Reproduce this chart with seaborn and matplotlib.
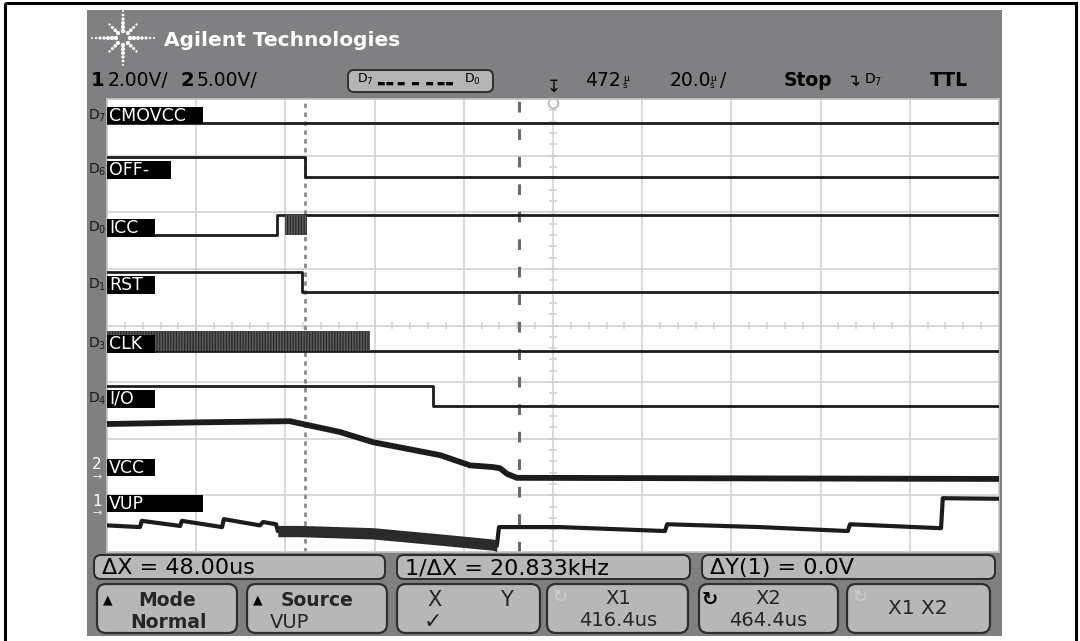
import matplotlib
matplotlib.use("Agg")
import numpy as np
import matplotlib.pyplot as plt
import seaborn as sns
from matplotlib.patches import Rectangle, FancyBboxPatch

# ---------------- data ----------------
t_center = 472.0          # µs, horizontal position
t_per_div = 20.0          # µs / div
cursor_x1 = 416.4         # µs
cursor_x2 = 464.4         # µs

dig_names = ["CMOVCC", "OFF-", "ICC", "RST", "CLK", "I/O"]
dig_pods = ["7", "6", "0", "1", "3", "4"]
dig_low = [3.58, 2.62, 1.60, 0.59, -0.45, -1.42]      # divisions
dig_times = [
    [372.0, 572.0],
    [372.0, 416.5, 572.0],
    [372.0, 410.1, 572.0],
    [372.0, 415.7, 572.0],
    [372.0, 431.0, 572.0],
    [372.0, 445.1, 572.0],
]
dig_states = [[0, 0], [1, 0, 0], [0, 1, 1], [1, 0, 0], [0, 0, 0], [1, 0, 0]]
dig_bursts = [None, None, (411.9, 416.8), None, (372.0, 431.0), None]

vcc_t = [372.0, 392.9, 413.0, 415.9, 424.2, 431.6, 446.7, 453.4, 458.5,
         460.1, 461.7, 463.9, 572.0]
vcc_v = [-1.74, -1.71, -1.69, -1.74, -1.88, -2.06, -2.29, -2.47, -2.50,
         -2.52, -2.62, -2.69, -2.71]

vup_t = [372.0, 379.4, 379.8, 388.4, 388.8, 397.8, 398.2, 406.3, 407.0, 409.9,
         410.3, 415.3, 431.6, 446.7, 458.5, 459.4, 459.9, 473.6, 497.1, 497.6,
         518.4, 538.1, 538.6, 559.0, 559.4, 572.0]
vup_v = [-3.53, -3.56, -3.45, -3.54, -3.45, -3.56, -3.42, -3.53, -3.47, -3.51,
         -3.63, -3.63, -3.67, -3.78, -3.87, -3.89, -3.56, -3.56, -3.63, -3.51,
         -3.56, -3.63, -3.51, -3.58, -3.05, -3.06]
vup_band_t = [410.3, 415.3, 431.6, 446.7, 458.5, 459.4]
vup_band_v = [-3.63, -3.63, -3.67, -3.78, -3.87, -3.89]

analog_names = ["VCC", "VUP"]
analog_nums = ["2", "1"]

# ---------------- style / layout ----------------
sns.set_theme(style="white")
plt.rcParams["font.family"] = ["DejaVu Sans"]
plt.rcParams["hatch.linewidth"] = 0.9

W, H = 1080, 641
SX0, SX1, SY0, SY1 = 107, 999, 99, 552          # screen in pixels
t0 = t_center - 5 * t_per_div
t1 = t_center + 5 * t_per_div
px_per_div_y = (SY1 - SY0) / 8.0
px_per_us = (SX1 - SX0) / (t1 - t0)

def ypx(v):
    return (SY0 + SY1) / 2.0 - v * px_per_div_y

bezel = "#807f81"
trace_c = "#1c1c1c"
grid_c = "#d2d2d2"
key_fill = "#b7b7b7"
key_edge = "#2e2e2e"

fig = plt.figure(figsize=(W / 100, H / 100), dpi=100)
fig.patch.set_facecolor("white")
bg = fig.add_axes([0, 0, 1, 1])
bg.set_xlim(0, W)
bg.set_ylim(H, 0)
bg.axis("off")

bg.add_patch(Rectangle((5, 3), 1071, 650, fill=False, ec="black", lw=2.2))
bg.add_patch(Rectangle((87, 10), 915, 626, fc=bezel, ec="none"))

# logo starburst
cx, cy = 123, 38
for k in range(8):
    a = np.deg2rad(45 * k)
    if k % 4 == 0:
        radii, sizes = [7, 11, 15, 19, 23, 27, 31], [10, 9, 8, 6, 5, 3, 2]
    elif k % 2 == 0:
        radii, sizes = [7, 11, 15, 19, 23, 27], [10, 9, 8, 6, 4, 2]
    else:
        radii, sizes = [7, 11, 15, 19], [9, 7, 5, 3]
    xs = [cx + r * np.cos(a) for r in radii]
    ys = [cy - r * np.sin(a) for r in radii]
    bg.scatter(xs, ys, s=sizes, c="white", lw=0, zorder=3)

bg.text(164, 40, "Agilent Technologies", color="white", fontsize=14.5,
        fontweight="bold", va="center", ha="left")

# status row
ry = 81
bg.text(91, ry, "1", fontsize=14, fontweight="bold", va="center", color="black")
bg.text(108, ry, "2.00V/", fontsize=13.5, va="center", color="black")
bg.text(180, ry, "2", fontsize=14, fontweight="bold", va="center", color="black")
bg.text(197, ry, "5.00V/", fontsize=13.5, va="center", color="black")
bg.add_patch(FancyBboxPatch((348, 70), 145, 22, boxstyle="round,pad=0,rounding_size=6",
                            fc="#b4b4b4", ec=key_edge, lw=1.4))
bg.text(357, 79, r"$\mathregular{D_7}$", fontsize=9, va="center", color="black")
bg.text(377, 83, "▬▬ ▬  ▬  ▬ ▬▬", fontsize=6.5, va="center", color="black")
bg.text(464, 79, r"$\mathregular{D_0}$", fontsize=9, va="center", color="black")
bg.text(553, 87, "↧", fontsize=12, va="center", ha="center", color="black")
bg.text(585, ry, "472", fontsize=13.5, va="center", color="black")
bg.text(623, ry + 1, "µ\ns", fontsize=6.5, linespacing=0.75, va="center", color="black")
bg.text(670, ry, "20.0", fontsize=13.5, va="center", color="black")
bg.text(710, ry + 1, "µ\ns", fontsize=6.5, linespacing=0.75, va="center", color="black")
bg.text(720, ry, "/", fontsize=13.5, va="center", color="black")
bg.text(784, ry, "Stop", fontsize=13.5, fontweight="bold", va="center", color="black")
bg.text(846, ry, "↴", fontsize=12, va="center", color="black")
bg.text(864, ry - 1, r"$\mathregular{D_7}$", fontsize=10, va="center", color="black")
bg.text(930, ry, "TTL", fontsize=13.5, fontweight="bold", va="center", color="black")

# ---------------- screen ----------------
sc = fig.add_axes([SX0 / W, 1 - SY1 / H, (SX1 - SX0) / W, (SY1 - SY0) / H])
sc.set_facecolor("white")
sc.set_xlim(t0, t1)
sc.set_ylim(-4, 4)
sc.set_xticks([])
sc.set_yticks([])
for s in sc.spines.values():
    s.set_color("#c4c4c4")
    s.set_linewidth(1.2)

for k in range(1, 10):
    sc.axvline(t0 + k * t_per_div, color=grid_c, lw=1.2, zorder=1)
for k in range(1, 8):
    sc.axhline(-4 + k, color=grid_c, lw=1.2, zorder=1)
minor_t = t0 + np.arange(1, 50) * t_per_div / 5
sc.vlines(minor_t, -0.06, 0.06, color=grid_c, lw=1.2, zorder=1)
minor_v = -4 + np.arange(1, 40) * 0.2
sc.hlines(minor_v, t_center - 0.8, t_center + 0.8, color=grid_c, lw=1.2, zorder=1)

# cursors
sc.axvline(cursor_x1, color="#8a8a8a", lw=2.0, ls=(0, (1.6, 1.6)), zorder=2)
sc.axvline(cursor_x2, color="#6a6a6a", lw=2.2, ls=(0, (3.5, 5.5)), zorder=2)
sc.plot([t_center], [3.93], marker="o", ms=7, mfc="white", mec="#b5b5b5",
        mew=1.2, clip_on=False, zorder=2)

# digital channels
high_step = 0.35
for name, pod, low, tt, ss, burst in zip(dig_names, dig_pods, dig_low,
                                         dig_times, dig_states, dig_bursts):
    yy = [low + high_step * s for s in ss]
    sns.lineplot(x=tt, y=yy, ax=sc, color=trace_c, linewidth=2.0,
                 drawstyle="steps-post", estimator=None, sort=False,
                 legend=False, zorder=3)
    if burst is not None:
        sc.fill_between([burst[0], burst[1]], [low, low],
                        [low + high_step, low + high_step],
                        facecolor="#5c5c5c", edgecolor="#2a2a2a",
                        hatch="||||||", linewidth=0, zorder=3)
    bw = len(name) * 16 if len(name) > 3 else 48
    sc.add_patch(Rectangle((t0, low - 0.03), bw / px_per_us, 0.31,
                           fc="black", ec="none", zorder=6, clip_on=False))
    sc.text(t0 + 2 / px_per_us, low + 0.125, name, color="white", fontsize=12.5,
            va="center", ha="left", zorder=7)
    bg.text(88, ypx(low + 0.13), r"$\mathregular{D_{%s}}$" % pod, fontsize=10,
            color="#1a1a1a", va="center", ha="left")

# analog channels
sns.lineplot(x=vcc_t, y=vcc_v, ax=sc, color=trace_c, linewidth=4.2,
             estimator=None, sort=False, legend=False, zorder=3)
sns.lineplot(x=vup_t, y=vup_v, ax=sc, color=trace_c, linewidth=3.0,
             estimator=None, sort=False, legend=False, zorder=3)
band_half = 0.1
sc.fill_between(vup_band_t, [v - band_half for v in vup_band_v],
                [v + band_half for v in vup_band_v], color="#2a2a2a", lw=0, zorder=3)

analog_box_bottom = [-2.66, -3.30]
analog_box_w = [48, 96]
for name, num, yb, bw in zip(analog_names, analog_nums, analog_box_bottom, analog_box_w):
    sc.add_patch(Rectangle((t0, yb), bw / px_per_us, 0.30, fc="black", ec="none",
                           zorder=6, clip_on=False))
    sc.text(t0 + 2 / px_per_us, yb + 0.15, name, color="white", fontsize=12.5,
            va="center", ha="left", zorder=7)
    bg.text(97, ypx(yb + 0.2), num, fontsize=11, color="white", va="center", ha="center")
    bg.text(97, ypx(yb - 0.02), "→", fontsize=8, color="#e6e6e6", va="center", ha="center")

# ---------------- bottom softkey area ----------------
row1 = [(94, 385, "ΔX = 48.00us"), (397, 690, "1/ΔX = 20.833kHz"),
        (702, 995, "ΔY(1) = 0.0V")]
for x0, x1, txt in row1:
    bg.add_patch(FancyBboxPatch((x0, 555), x1 - x0, 24,
                                boxstyle="round,pad=0,rounding_size=7",
                                fc=key_fill, ec=key_edge, lw=1.5))
    bg.text(x0 + 8, 568, txt, fontsize=16, va="center", ha="left", color="black")

buttons = [(97, 237), (247, 387), (397, 540), (547, 688), (699, 838), (847, 990)]
for x0, x1 in buttons:
    bg.add_patch(FancyBboxPatch((x0, 584), x1 - x0, 49,
                                boxstyle="round,pad=0,rounding_size=9",
                                fc=key_fill, ec=key_edge, lw=1.6))

l1, l2 = 600, 622
bg.text(108, l1, "▲", fontsize=9, va="center", ha="center", color="black")
bg.text(167, l1, "Mode", fontsize=13.5, fontweight="bold", va="center", ha="center")
bg.text(168, l2, "Normal", fontsize=13.5, fontweight="bold", va="center", ha="center")
bg.text(258, l1, "▲", fontsize=9, va="center", ha="center", color="black")
bg.text(317, l1, "Source", fontsize=13.5, fontweight="bold", va="center", ha="center")
bg.text(270, l2, "VUP", fontsize=14, va="center", ha="left")
bg.text(435, l1, "X", fontsize=15, va="center", ha="center")
bg.text(506, l1, "Y", fontsize=15, va="center", ha="center")
bg.text(433, l2, "✓", fontsize=16, va="center", ha="center")
bg.text(560, 597, "↻", fontsize=13, va="center", ha="center", color="#cdcdcd")
bg.text(618, l1 - 2, "X1", fontsize=14, va="center", ha="center")
bg.text(618, l2 - 1, "416.4us", fontsize=14, va="center", ha="center")
bg.text(710, 599, "↻", fontsize=14, fontweight="bold", va="center", ha="center", color="black")
bg.text(768, l1 - 2, "X2", fontsize=14, va="center", ha="center")
bg.text(768, l2 - 1, "464.4us", fontsize=14, va="center", ha="center")
bg.text(860, 597, "↻", fontsize=13, va="center", ha="center", color="#cdcdcd")
bg.text(918, 608, "X1 X2", fontsize=14.5, va="center", ha="center")

fig.savefig("out.png", dpi=100, facecolor="white")
